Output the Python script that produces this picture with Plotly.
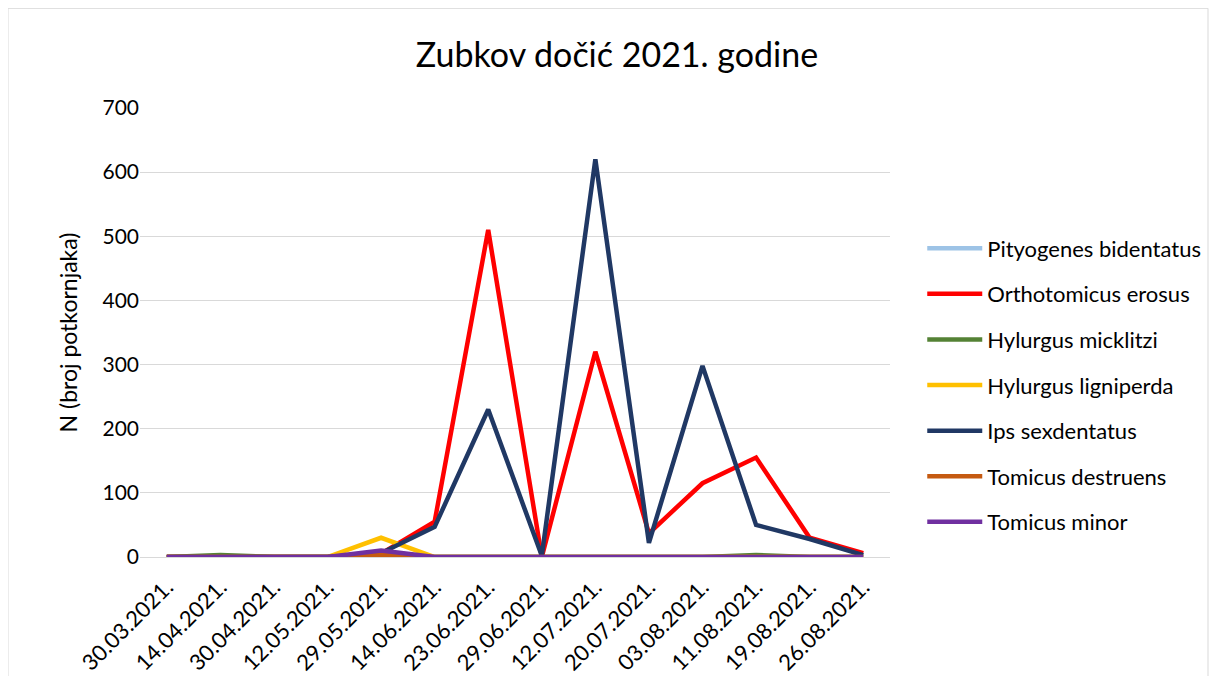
import plotly.graph_objects as go

dates = ["30.03.2021.", "14.04.2021.", "30.04.2021.", "12.05.2021.", "29.05.2021.",
         "14.06.2021.", "23.06.2021.", "29.06.2021.", "12.07.2021.", "20.07.2021.",
         "03.08.2021.", "11.08.2021.", "19.08.2021.", "26.08.2021."]

pityogenes_bidentatus = [0, 0, 0, 0, 0, 0, 0, 0, 0, 0, 0, 0, 0, 0]
orthotomicus_erosus   = [0, 0, 0, 0, 5, 55, 510, 0, 320, 37, 115, 155, 30, 6]
hylurgus_micklitzi    = [0, 3, 0, 0, 0, 0, 0, 0, 0, 0, 0, 3, 0, 0]
hylurgus_ligniperda   = [0, 0, 0, 0, 30, 0, 0, 0, 0, 0, 0, 0, 0, 0]
ips_sexdentatus       = [0, 0, 0, 0, 6, 47, 230, 2, 620, 22, 298, 50, 28, 3]
tomicus_destruens     = [0, 0, 0, 0, 4, 0, 0, 0, 0, 0, 0, 0, 0, 0]
tomicus_minor         = [0, 0, 0, 0, 10, 0, 0, 0, 0, 0, 0, 0, 0, 0]

series = [
    ("Pityogenes bidentatus", pityogenes_bidentatus, "#9dc3e6"),
    ("Orthotomicus erosus", orthotomicus_erosus, "#ff0000"),
    ("Hylurgus micklitzi", hylurgus_micklitzi, "#548235"),
    ("Hylurgus ligniperda", hylurgus_ligniperda, "#ffc000"),
    ("Ips sexdentatus", ips_sexdentatus, "#203864"),
    ("Tomicus destruens", tomicus_destruens, "#c55a11"),
    ("Tomicus minor", tomicus_minor, "#7030a0"),
]

FONT = "Lato, 'Open Sans', sans-serif"
W, H = 1201, 668
L, T, R, B = 132, 100, 319, 119

fig = go.Figure()
for name, vals, col in series:
    fig.add_trace(go.Scatter(
        x=dates, y=vals, name=name, mode="lines",
        line=dict(color=col, width=4.5), legendgroup=name,
    ))

fig.update_layout(
    width=W, height=H,
    paper_bgcolor="white", plot_bgcolor="white",
    margin=dict(l=L, r=R, t=T, b=B, autoexpand=False),
    font=dict(family=FONT, color="#000000"),
    title=dict(text="Zubkov dočić 2021. godine", x=609/W, xanchor="center",
               y=1 - 47/H, yanchor="middle", font=dict(size=34, family=FONT)),
    showlegend=True,
    legend=dict(x=1.043, xanchor="left", y=0.734, yanchor="top",
                font=dict(size=22, family=FONT), tracegroupgap=14, itemwidth=55,
                bgcolor="rgba(0,0,0,0)"),
    shapes=[dict(type="rect", xref="paper", yref="paper",
                 x0=-0.176, x1=1.424, y0=-0.4, y1=1.222,
                 line=dict(color="#d9d9d9", width=1), fillcolor="rgba(0,0,0,0)", layer="below")],
)

fig.update_xaxes(type="category", range=[-0.5, 13.5], tickangle=-45,
                 tickfont=dict(size=22, family=FONT), showgrid=False,
                 showline=False, ticks="", zeroline=False, automargin=False,
                 ticklabelstandoff=12)
fig.update_yaxes(range=[0, 700], dtick=100, tickfont=dict(size=21, family=FONT),
                 showgrid=True, gridcolor="#d9d9d9", gridwidth=1,
                 zeroline=True, zerolinecolor="#d9d9d9", zerolinewidth=1,
                 ticks="", showline=False, automargin=False,
                 title=dict(text="N (broj potkornjaka)", font=dict(size=23, family=FONT), standoff=18))

fig.write_html("out.html")
